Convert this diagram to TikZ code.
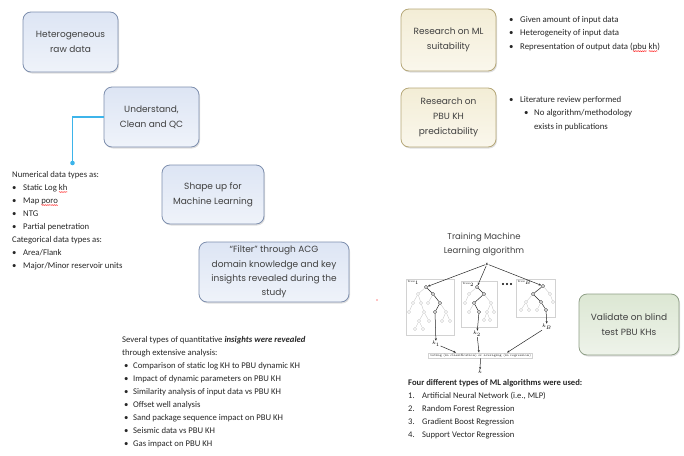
\documentclass[tikz,border=0pt]{standalone}
\usepackage{fontspec}
\setmainfont{Carlito}
\newfontfamily\boxfont{Poppins}
\newfontfamily\lmfont{Latin Modern Roman}
\usetikzlibrary{shadows,decorations.pathmorphing,arrows.meta}
\definecolor{bluefill}{HTML}{DDE5F4}
\definecolor{bluefill2}{HTML}{EFF3FA}
\definecolor{blueedge}{HTML}{7E8FAE}
\definecolor{yelfill}{HTML}{F3EDD6}
\definecolor{yelfill2}{HTML}{FAF7EC}
\definecolor{yeledge}{HTML}{B5A778}
\definecolor{grnfill}{HTML}{DCE7D3}
\definecolor{grnfill2}{HTML}{EEF3EA}
\definecolor{grnedge}{HTML}{8E9E86}
\definecolor{linkblue}{RGB}{61,180,234}
\newcommand\bul{\makebox[11pt][l]{\textbullet}}
\newcommand\sbul{\makebox[9pt][l]{\textbullet}}
\newcommand\sq[1]{\tikz[baseline=(sqw.base),x=1pt,y=1pt]{\node[inner sep=0pt,outer sep=0pt,anchor=base,draw=none,fill=none] (sqw) {#1};\draw[overlay,red,line width=0.35pt,decorate,decoration={snake,amplitude=0.45pt,segment length=1.8pt}] ([yshift=-1.8pt]sqw.base west) -- ([yshift=-1.8pt]sqw.base east);}}
\tikzset{
  flowbox/.style={rounded corners=8pt, line width=0.8pt, align=center,
    font=\boxfont\fontsize{9}{15}\selectfont, text=black!75, inner sep=2pt,
    drop shadow={shadow xshift=1pt,shadow yshift=-1.5pt,opacity=0.25}},
  bluebox/.style={flowbox, draw=blueedge, top color=bluefill, bottom color=bluefill2},
  yelbox/.style={flowbox, draw=yeledge, top color=yelfill, bottom color=yelfill2},
  grnbox/.style={flowbox, draw=grnedge, top color=grnfill, bottom color=grnfill2},
  listtext/.style={inner sep=0pt, anchor=north west, align=left,
    font=\fontsize{8.7}{13}\selectfont, text=black!85},
  tnode/.style={circle, draw=gray!45, fill=white, inner sep=0pt, minimum size=3.2pt, line width=0.35pt},
  tdark/.style={tnode, draw=black!85, line width=0.45pt},
  tedge/.style={draw=gray!45, line width=0.35pt},
  dedge/.style={draw=black!85, line width=0.5pt},
  tbox/.style={draw=gray!35, line width=0.4pt},
  tarrow/.style={-{Stealth[length=2.6pt,width=2pt]}, line width=0.5pt, black!85},
  tiny/.style={font=\lmfont\fontsize{3.2}{4}\selectfont, inner sep=0.5pt},
  linkline/.style={color=linkblue, line width=1.3pt, line cap=butt}
}
\begin{document}
\begin{tikzpicture}[x=1pt,y=-1pt]
\useasboundingbox (0,0) rectangle (684,455);
% main boxes
\node[bluebox, minimum width=95pt, minimum height=60pt] (raw) at (70.5,42) {Heterogeneous\\raw data};
\node[bluebox, minimum width=95pt, minimum height=60pt] (clean) at (151.5,117) {Understand,\\Clean and QC};
\node[bluebox, minimum width=102pt, minimum height=59pt] (shape) at (213,194.5) {Shape up for\\Machine Learning};
\node[bluebox, minimum width=150pt, minimum height=60pt, font=\boxfont\fontsize{9}{14.3}\selectfont] (filter) at (274,272) {“Filter” through ACG\\domain knowledge and key\\insights revealed during the\\study};
\node[yelbox, minimum width=95pt, minimum height=62pt] (mlres) at (448.5,40) {Research on ML\\suitability};
\node[yelbox, minimum width=95pt, minimum height=59pt] (pbures) at (448.5,117.5) {Research on\\PBU KH\\predictability};
\node[grnbox, minimum width=100pt, minimum height=61pt] (valid) at (629,324.5) {Validate on blind\\test PBU KHs};
% connector with dot
\coordinate (bend) at (72.5,117);
\coordinate (dot) at (72.5,163);
\draw[linkline] (clean.west |- bend) -- (bend) -- (dot);
\fill[linkblue] (dot) circle (2.3pt);
% lists
\node[listtext] (numlist) at (12,171) {Numerical data types as:\\
\bul Static Log \sq{kh}\\
\bul Map \sq{poro}\\
\bul NTG\\
\bul Partial penetration\\
Categorical data types as:\\
\bul Area/Flank\\
\bul Major/Minor reservoir units};
\node[listtext, font=\fontsize{8.8}{13.5}\selectfont] (mlnotes) at (509,16) {\bul Given amount of input data\\
\bul Heterogeneity of input data\\
\bul Representation of output data (\sq{pbu} \sq{kh})};
\node[listtext, font=\fontsize{8.8}{13.5}\selectfont] (pbunotes) at (509,96) {\bul Literature review performed\\
\hspace{15pt}\makebox[10pt][l]{\textbullet}No algorithm/methodology\\
\hspace{25pt}exists in publications};
\node[listtext] (insights) at (122,336) {Several types of quantitative \textbf{\textit{insights were revealed}}\\
through extensive analysis:\\
\hspace{2pt}\sbul Comparison of static log KH to PBU dynamic KH\\
\hspace{2pt}\sbul Impact of dynamic parameters on PBU KH\\
\hspace{2pt}\sbul Similarity analysis of input data vs PBU KH\\
\hspace{2pt}\sbul Offset well analysis\\
\hspace{2pt}\sbul Sand package sequence impact on PBU KH\\
\hspace{2pt}\sbul Seismic data vs PBU KH\\
\hspace{2pt}\sbul Gas impact on PBU KH};
\node[listtext, font=\fontsize{8.6}{13}\selectfont] (algos) at (408,379) {\textbf{Four different types of ML algorithms were used:}\\
\makebox[14pt][l]{1.}Artificial Neural Network (i.e., MLP)\\
\makebox[14pt][l]{2.}Random Forest Regression\\
\makebox[14pt][l]{3.}Gradient Boost Regression\\
\makebox[14pt][l]{4.}Support Vector Regression};
% training caption
\node[font=\boxfont\fontsize{8.5}{14}\selectfont, align=center, text=black!75] (train) at (484,244) {Training Machine\\Learning algorithm};
% tree image
\draw[tbox] (406,279) rectangle (454,335);
\draw[tbox] (461,281) rectangle (497,327);
\draw[tbox] (516,279) rectangle (555,317);
\node[tiny, anchor=north west] (lt1) at (407,280) {tree$_1$};
\node[tiny, anchor=north west] (lt2) at (462,282) {tree$_2$};
\node[tiny, anchor=north west] (lt3) at (517,280) {tree$_B$};
\fill[black] (503,284) circle (1.1pt) (507,284) circle (1.1pt) (511,284) circle (1.1pt);
% tree 1
\node[tdark] (a0) at (426,287) {};
\node[tnode] (a1) at (418,294) {};
\node[tdark] (a2) at (433,294) {};
\node[tnode] (a3) at (413,303) {};
\node[tnode] (a4) at (421,303) {};
\node[tnode] (a5) at (428,303) {};
\node[tdark] (a6) at (440,303) {};
\node[tdark] (a7) at (435,312) {};
\node[tnode] (a8) at (446,312) {};
\node[tnode] (a9) at (409,312) {};
\node[tnode] (a10) at (424,312) {};
\node[tnode] (a11) at (419,321) {};
\node[tnode] (a12) at (429,321) {};
\node[tnode] (a13) at (415,329) {};
\node[tnode] (a14) at (423,329) {};
\node[tnode] (a15) at (442,321) {};
\node[tnode] (a16) at (450,321) {};
\draw[tedge] (a0)--(a1) (a1)--(a3) (a1)--(a4) (a3)--(a9) (a2)--(a5) (a4)--(a10) (a10)--(a11) (a10)--(a12) (a11)--(a13) (a11)--(a14) (a6)--(a8) (a8)--(a15) (a8)--(a16);
\draw[dedge] (a0)--(a2) (a2)--(a6) (a6)--(a7);
% tree 2
\node[tdark] (b0) at (477,287) {};
\node[tnode] (b1) at (469,294) {};
\node[tdark] (b2) at (484,294) {};
\node[tdark] (b3) at (474,303) {};
\node[tnode] (b4) at (491,303) {};
\node[tdark] (b5) at (479,312) {};
\node[tnode] (b6) at (469,312) {};
\node[tnode] (b7) at (487,312) {};
\node[tnode] (b8) at (494,312) {};
\node[tnode] (b9) at (484,320) {};
\node[tnode] (b10) at (490,320) {};
\node[tnode] (b11) at (465,303) {};
\draw[tedge] (b0)--(b1) (b1)--(b11) (b2)--(b4) (b3)--(b6) (b4)--(b7) (b4)--(b8) (b7)--(b9) (b7)--(b10);
\draw[dedge] (b0)--(b2) (b2)--(b3) (b3)--(b5);
% tree 3
\node[tdark] (c0) at (543,286) {};
\node[tdark] (c1) at (533,294) {};
\node[tnode] (c2) at (550,294) {};
\node[tnode] (c3) at (526,302) {};
\node[tdark] (c4) at (541,302) {};
\node[tdark] (c5) at (546,310) {};
\node[tnode] (c6) at (537,310) {};
\node[tnode] (c7) at (521,310) {};
\node[tnode] (c8) at (529,310) {};
\node[tnode] (c9) at (553,302) {};
\draw[tedge] (c0)--(c2) (c1)--(c3) (c3)--(c7) (c3)--(c8) (c4)--(c6) (c2)--(c9);
\draw[dedge] (c0)--(c1) (c1)--(c4) (c4)--(c5);
% inputs / outputs
\node[tiny, font=\lmfont\fontsize{4.5}{5}\selectfont] (xin) at (487,264) {$\mathbf{x}$};
\node[tiny, font=\lmfont\fontsize{4.5}{5}\selectfont] (k1) at (436,344) {$k_1$};
\node[tiny, font=\lmfont\fontsize{4.5}{5}\selectfont] (k2) at (477,334) {$k_2$};
\node[tiny, font=\lmfont\fontsize{4.5}{5}\selectfont] (kb) at (547,327) {$k_B$};
\node[tbox, tiny, minimum width=104pt, minimum height=5.5pt] (vote) at (480.5,355.5) {voting (in classification) or averaging (in regression)};
\node[tiny, font=\lmfont\fontsize{4.5}{5}\selectfont] (kout) at (480,372) {$k$};
\draw[tarrow] (xin) -- (a0);
\draw[tarrow] (xin) -- (b0);
\draw[tarrow] (xin) -- (c0);
\draw[tarrow] (a7) -- (k1);
\draw[tarrow] (b5) -- (k2);
\draw[tarrow] (c5) -- (kb);
\draw[tarrow] (k1) -- (vote.north west -| 456,0);
\draw[tarrow] (k2) -- (vote.north -| 479,0);
\draw[tarrow] (kb) -- (vote.north east -| 507,0);
\draw[tarrow] (vote) -- (kout);
% stray red dot
\fill[red] (377,300) circle (0.6pt);
\end{tikzpicture}
\end{document}
